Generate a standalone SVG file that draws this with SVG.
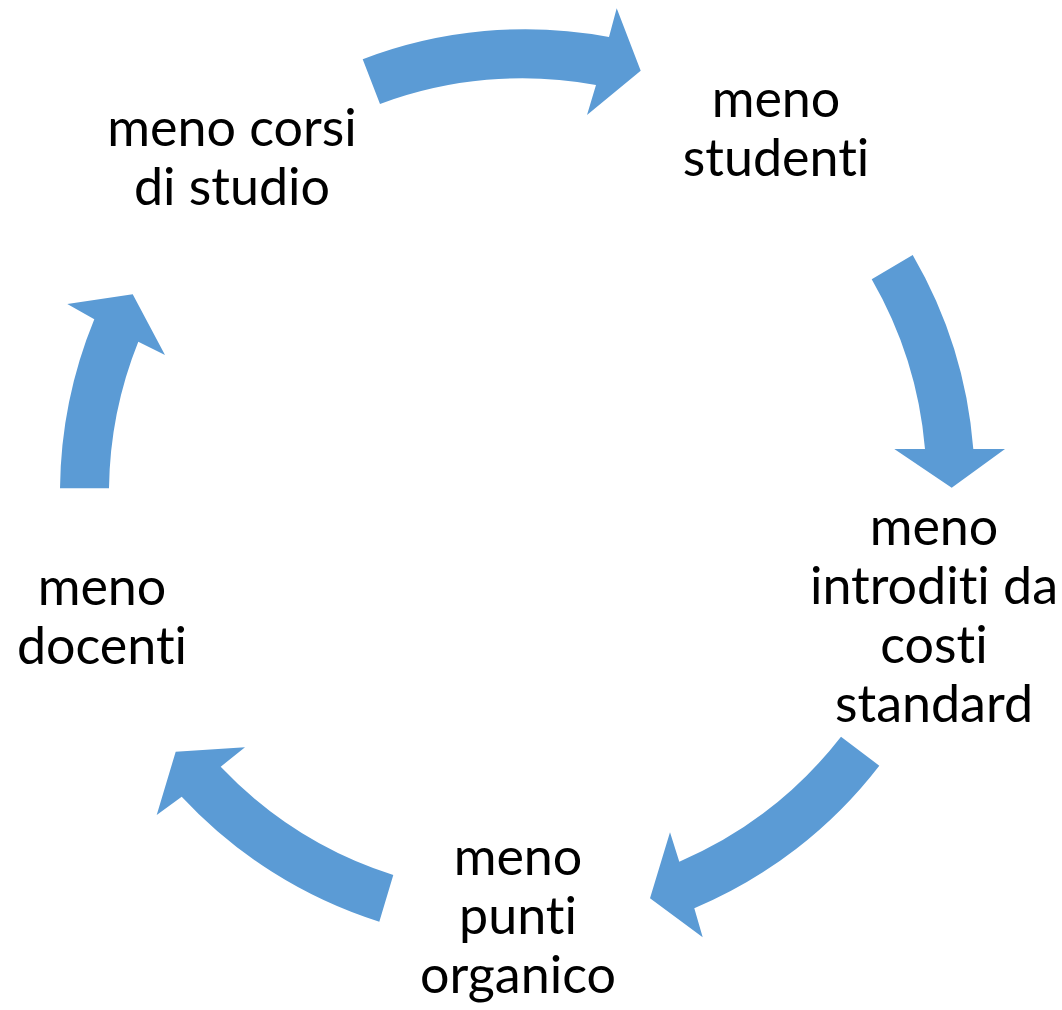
<svg xmlns="http://www.w3.org/2000/svg" width="1062" height="1010" viewBox="0 0 1062 1010">
<style>
.arrow{fill:#5B9BD5;stroke:none}
.lbl{font-family:Lato,"Liberation Sans",sans-serif;font-size:52px;fill:#000;text-anchor:middle;font-variant-ligatures:none;font-feature-settings:"liga" 0}
</style>
<rect width="1062" height="1010" fill="#fff"/>
<g id="connectors">
<path class="arrow" d="M362.7,59.3 A455,455 0 0 1 609,37 L616.7,8.3 L640.7,70.7 L587,115 L596,85 A406,406 0 0 0 380,104 Z"/>
<path class="arrow" d="M912.7,255 A458,458 0 0 1 973.3,449 L1005,449 L951.7,487.7 L894.3,449 L925,449 A409,409 0 0 0 871.7,279.3 Z"/>
<path class="arrow" d="M879.3,765.7 A458,458 0 0 1 694.3,908.3 L702.7,937.3 L650,898.3 L670,832.3 L679.3,861.7 A410,410 0 0 0 841,736.7 Z"/>
<path class="arrow" d="M379.3,921.7 A458,458 0 0 1 181.7,796.7 L156.7,815 L175.7,751.7 L245,747.3 L220.7,766.7 A409,409 0 0 0 393.3,875 Z"/>
<path class="arrow" d="M60,488.3 A457,457 0 0 1 94.3,319.3 L67.3,304 L132.7,294.3 L165,355 L138.3,341.7 A406,406 0 0 0 109,488.3 Z"/>
</g>
<g id="node-studenti"><text class="lbl" x="776" y="117">meno</text><text class="lbl" x="776" y="176">studenti</text></g>
<g id="node-costi"><text class="lbl" x="934" y="545">meno</text><text class="lbl" x="934" y="604">introditi da</text><text class="lbl" x="934" y="663">costi</text><text class="lbl" x="934" y="722">standard</text></g>
<g id="node-organico"><text class="lbl" x="518" y="875">meno</text><text class="lbl" x="518" y="934">punti</text><text class="lbl" x="518" y="993">organico</text></g>
<g id="node-docenti"><text class="lbl" x="102" y="605">meno</text><text class="lbl" x="102" y="664">docenti</text></g>
<g id="node-corsi"><text class="lbl" x="232" y="146">meno corsi</text><text class="lbl" x="232" y="205">di studio</text></g>
</svg>
